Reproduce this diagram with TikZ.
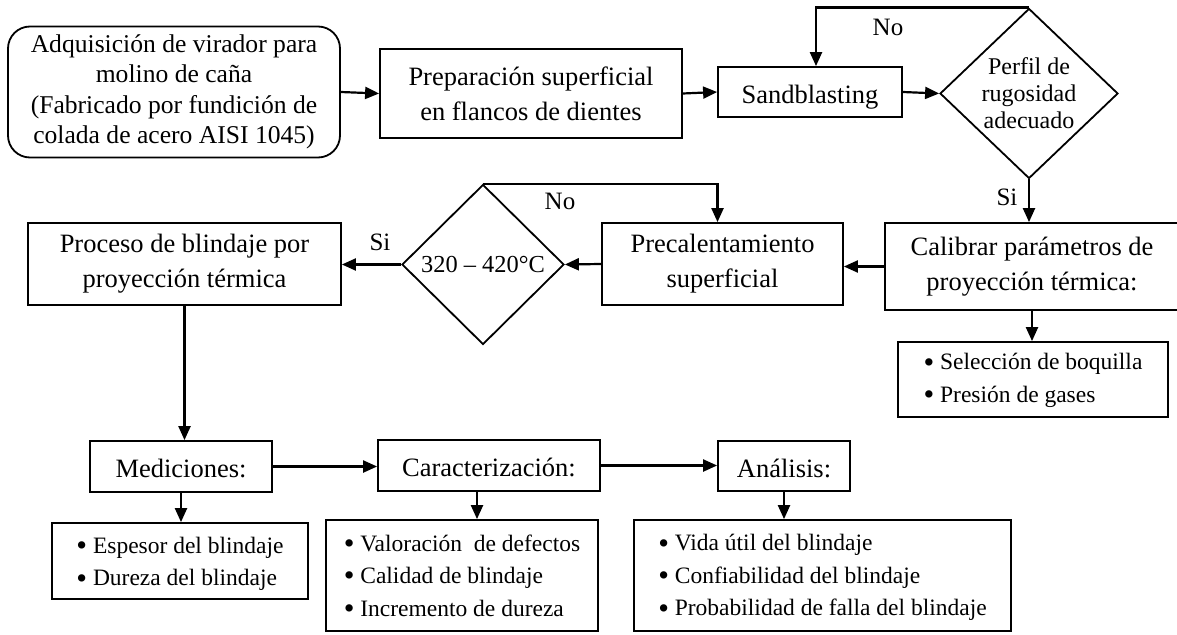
\documentclass[tikz,border=0pt]{standalone}
\usepackage{fontspec}
\usepackage{graphicx}
\setmainfont{Liberation Serif}
\usetikzlibrary{arrows.meta,shapes.geometric}
\newcommand\bul{\raisebox{-0.1em}{\scalebox{1.3}{\textbullet}}\ }
\begin{document}
\begin{tikzpicture}[x=1pt,y=-1pt,
  box/.style={draw, line width=1.8pt, inner sep=0pt, align=center, font=\fontsize{26.5}{35}\selectfont},
  one/.style={text height=22pt, text depth=0pt},
  lst/.style={draw, line width=1.8pt, inner sep=0pt},
  lsttxt/.style={inner sep=0pt, align=left, font=\fontsize{23.5}{32.5}\selectfont},
  dia/.style={draw, diamond, line width=1.8pt, inner sep=0pt},
  arr/.style={-{Triangle[length=14pt,width=12pt]}, line width=2.2pt},
  lbl/.style={font=\fontsize{25}{28}\selectfont, inner sep=0pt}]
\useasboundingbox (0,0) rectangle (1177,634);
% top row
\node[box, font=\fontsize{25.6}{30.5}\selectfont, rounded corners=22pt, minimum width=332pt, minimum height=131pt] (A) at (174,92)
  {Adquisición de virador para\\molino de caña\\(Fabricado por fundición de\\colada de acero AISI 1045)};
\node[box, minimum width=302pt, minimum height=89pt] (B) at (531,93.5)
  {Preparación superficial\\en flancos de dientes};
\node[box, one, minimum width=184pt, minimum height=50pt] (C) at (810,92) {Sandblasting};
\node[dia, minimum width=178pt, minimum height=170pt] (D1) at (1029,93.5) {};
\node[font=\fontsize{24}{27}\selectfont, align=center, inner sep=0pt] (D1t) at (D1) {Perfil de\\rugosidad\\adecuado};
% middle row
\node[box, minimum width=294pt, minimum height=87pt] (CAL) at (1032,266.5)
  {Calibrar parámetros de\\proyección térmica:};
\node[box, minimum width=241pt, minimum height=82pt] (PRE) at (722.5,264)
  {Precalentamiento\\superficial};
\node[dia, minimum width=162pt, minimum height=160pt] (D2) at (483,264.5) {};
\node[font=\fontsize{24.4}{28}\selectfont, inner sep=0pt] (D2t) at (D2) {320 – 420°C};
\node[box, minimum width=313pt, minimum height=82pt] (PRO) at (184.5,264)
  {Proceso de blindaje por\\proyección térmica};
\node[lst, minimum width=270pt, minimum height=75pt] (B4) at (1033,379.5) {};
\node[lsttxt] (B4t) at ([yshift=-1pt]B4.center) {\bul Selección de boquilla\\\bul Presión de gases};
% bottom row
\node[box, one, minimum width=182pt, minimum height=51pt] (MED) at (181,466.5) {Mediciones:};
\node[box, one, minimum width=222pt, minimum height=51pt] (CAR) at (489,465.5) {Caracterización:};
\node[box, one, minimum width=132pt, minimum height=50pt] (ANA) at (784,466) {Análisis:};
\node[lst, minimum width=256pt, minimum height=76pt] (B1) at (180,561) {};
\node[lsttxt] (B1t) at ([yshift=-3pt]B1.center) {\bul Espesor del blindaje\\\bul Dureza del blindaje};
\node[lst, minimum width=272pt, minimum height=111pt] (B2) at (462,575.5) {};
\node[lsttxt] (B2t) at ([yshift=-1pt]B2.center) {\bul Valoración\ \ de defectos\\\bul Calidad de blindaje\\\bul Incremento de dureza};
\node[lst, minimum width=377pt, minimum height=111pt] (B3) at (822.5,575.5) {};
\node[lsttxt] (B3t) at ([yshift=-2pt]B3.center) {\bul Vida útil del blindaje\\\bul Confiabilidad del blindaje\\\bul Probabilidad de falla del blindaje};
% connectors
\draw[arr] (A.east) -- (B.west);
\draw[arr] (B.east) -- (C.west);
\draw[arr] (C.east) -- (D1.west);
\draw[arr] (D1.north) -| ([xshift=6pt]C.north);
\draw[arr] (D1.south) -- (D1.south |- CAL.north);
\draw[arr] (CAL.west) -- (CAL.west -| PRE.east);
\draw[arr] (PRE.west) -- (D2.east);
\draw[arr] (D2.west) -- (D2.west -| PRO.east);
\draw[arr] (D2.north) -| ([xshift=-5pt]PRE.north);
\draw[arr] (PRO.south) -- (PRO.south |- MED.north);
\draw[arr] (MED.east) -- (MED.east -| CAR.west);
\draw[arr] (CAR.east) -- (CAR.east -| ANA.west);
\draw[arr] (MED.south) -- (MED.south |- B1.north);
\draw[arr] ([xshift=-12pt]CAR.south) -- ([xshift=-12pt]CAR.south |- B2.north);
\draw[arr] (ANA.south) -- (ANA.south |- B3.north);
\draw[arr] (CAL.south) -- (CAL.south |- B4.north);
% labels
\node[lbl] (no1) at (888,27) {No};
\node[lbl] (si1) at (1007,197) {Si};
\node[lbl] (no2) at (560,201) {No};
\node[lbl] (si2) at (380,242) {Si};
\end{tikzpicture}
\end{document}
